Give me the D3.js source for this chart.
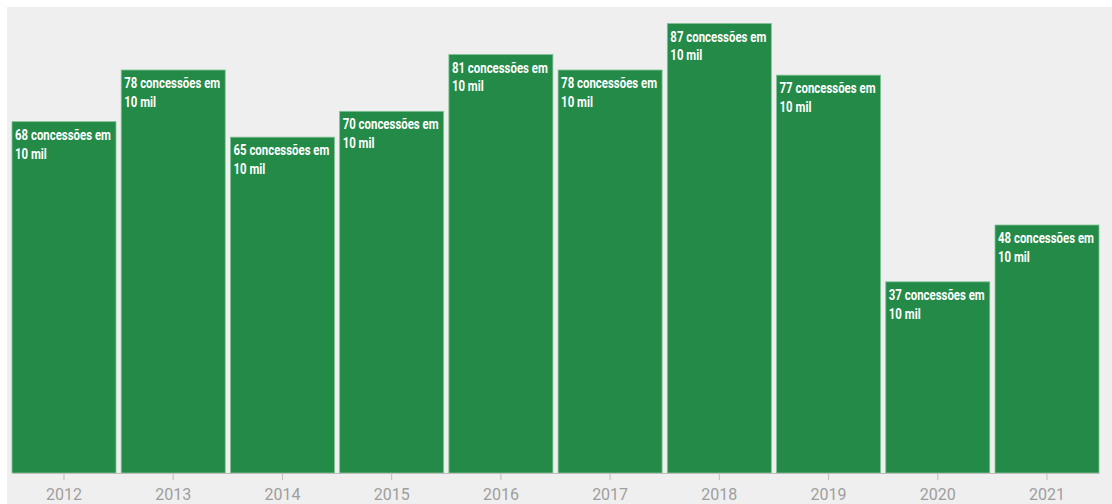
<!DOCTYPE html>
<html><head><meta charset="utf-8">
<script src="https://cdn.jsdelivr.net/npm/d3@7"></script>
<style>
html,body{margin:0;padding:0;background:#fff;}
svg{display:block;}
</style></head>
<body>
<svg id="chart" width="1112" height="504"></svg>
<script>
const years = ["2012","2013","2014","2015","2016","2017","2018","2019","2020","2021"];
const values = [68, 78, 65, 70, 81, 78, 87, 77, 37, 48];
const labelSuffix = "concessões em";
const labelLine2 = "10 mil";

const svg = d3.select("#chart");
const W = 1112, H = 504;
svg.append("rect").attr("x",7).attr("y",7).attr("width",W-7).attr("height",H-7).attr("fill","#efefef");

const x = d3.scaleBand().domain(years).range([12, 1099]).paddingInner(0.048).paddingOuter(0);
const y = d3.scaleLinear().domain([0, 90]).range([473, 8]);

const g = svg.append("g");
g.selectAll("rect.bar").data(values).join("rect")
  .attr("class","bar")
  .attr("x",(d,i)=>x(years[i]))
  .attr("y",d=>y(d))
  .attr("width",x.bandwidth())
  .attr("height",d=>y(0)-y(d))
  .attr("fill","#238a47")
  .attr("stroke","#7fc295")
  .attr("stroke-width",0.8);

// labels: condensed bold look via horizontal scaling
const probe = g.append("text").attr("font-family","Roboto, sans-serif").attr("font-weight","bold")
  .attr("font-size","15px").text("68 " + labelSuffix);
const sx = 96 / probe.node().getComputedTextLength();
probe.remove();

const lab = g.selectAll("g.lab").data(values).join("g")
  .attr("class","lab")
  .attr("transform",(d,i)=>`translate(${x(years[i])+3},${y(d)+18}) scale(${sx},1)`);
const t = lab.append("text")
  .attr("fill","#ffffff")
  .attr("font-family","Roboto, sans-serif")
  .attr("font-weight","bold")
  .attr("font-size","15px");
t.append("tspan").attr("x",0).text(d=>d+" "+labelSuffix);
t.append("tspan").attr("x",0).attr("dy",19).text(labelLine2);

const axis = d3.axisBottom(x).tickSize(7).tickPadding(9).tickSizeOuter(0);
const ax = svg.append("g").attr("transform","translate(0,473)").call(axis);
ax.select(".domain").attr("stroke","#bdbdbd");
ax.selectAll(".tick line").attr("stroke","#bdbdbd");
ax.selectAll(".tick text").attr("fill","#9e9e9e").attr("font-family","Roboto, sans-serif").attr("font-size","16px");
</script>
</body></html>
